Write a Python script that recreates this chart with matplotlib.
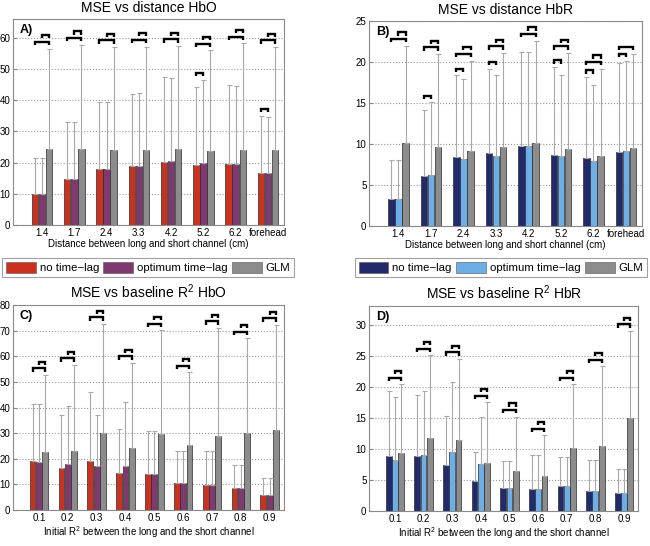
import numpy as np
import matplotlib
matplotlib.use('Agg')
import matplotlib.pyplot as plt
from matplotlib.patches import Patch

plt.rcParams['font.family'] = ['Liberation Sans', 'DejaVu Sans']
plt.rcParams['mathtext.fontset'] = 'custom'
plt.rcParams['mathtext.rm'] = 'Liberation Sans'
plt.rcParams['mathtext.it'] = 'Liberation Sans:italic'

# categories
dist_labels = ['1.4', '1.7', '2.4', '3.3', '4.2', '5.2', '6.2', 'forehead']
r2_labels = ['0.1', '0.2', '0.3', '0.4', '0.5', '0.6', '0.7', '0.8', '0.9']
series_names = ['no time\u2212lag', 'optimum time\u2212lag', 'GLM']

# A) MSE vs distance HbO : bar heights and whisker tops
hbo_dist_notl = [9.8, 14.8, 18.0, 19.0, 20.3, 19.2, 19.5, 16.8]
hbo_dist_opt = [9.8, 14.6, 18.0, 19.0, 20.5, 20.0, 19.6, 16.5]
hbo_dist_glm = [24.2, 24.4, 24.0, 24.1, 24.4, 23.6, 24.0, 24.0]
hbo_dist_notl_top = [21.5, 33.0, 39.5, 42.0, 47.5, 44.3, 45.0, 35.0]
hbo_dist_opt_top = [21.5, 33.0, 39.5, 42.2, 47.1, 46.5, 44.5, 34.5]
hbo_dist_glm_top = [56.5, 57.7, 57.0, 57.2, 57.3, 56.0, 58.2, 57.0]
hbo_dist_sig = [[(0, 2), (1, 2)], [(0, 2), (1, 2)], [(0, 2), (1, 2)], [(0, 2), (1, 2)],
                [(0, 2), (1, 2)], [(0, 1), (0, 2), (1, 2)], [(0, 2), (1, 2)], [(0, 1), (0, 2), (1, 2)]]

# B) MSE vs distance HbR
hbr_dist_notl = [3.3, 6.1, 8.4, 8.9, 9.8, 8.7, 8.3, 9.1]
hbr_dist_opt = [3.3, 6.2, 8.2, 8.5, 9.8, 8.5, 7.9, 9.2]
hbr_dist_glm = [10.1, 9.7, 9.2, 9.6, 10.2, 9.4, 8.6, 9.5]
hbr_dist_notl_top = [8.1, 14.2, 18.4, 19.2, 21.2, 19.4, 18.2, 19.9]
hbr_dist_opt_top = [8.1, 15.1, 17.9, 18.5, 21.2, 18.4, 17.2, 20.2]
hbr_dist_glm_top = [22.0, 21.0, 20.2, 21.1, 22.6, 21.1, 19.2, 21.0]
hbr_dist_sig = [[(0, 2), (1, 2)], [(0, 1), (0, 2), (1, 2)], [(0, 1), (0, 2), (1, 2)], [(0, 1), (0, 2), (1, 2)],
                [(0, 2), (1, 2)], [(0, 1), (0, 2), (1, 2)], [(0, 1), (0, 2), (1, 2)], [(0, 1), (0, 2)]]

# C) MSE vs baseline R2 HbO
hbo_r2_notl = [19.0, 16.3, 19.2, 14.3, 14.1, 10.5, 9.7, 8.5, 5.8]
hbo_r2_opt = [18.9, 18.0, 17.1, 17.0, 14.2, 10.4, 9.6, 8.4, 5.7]
hbo_r2_glm = [22.7, 23.0, 30.2, 24.2, 29.6, 25.2, 29.0, 30.0, 31.2]
hbo_r2_notl_top = [41.5, 37.2, 46.2, 31.8, 30.7, 22.9, 23.0, 17.5, 12.4]
hbo_r2_opt_top = [41.5, 40.8, 37.0, 42.2, 30.8, 22.9, 23.0, 17.5, 12.4]
hbo_r2_glm_top = [52.7, 56.6, 72.6, 57.4, 70.2, 53.8, 71.0, 67.0, 72.2]
hbo_r2_sig = [[(0, 2), (1, 2)]] * 9

# D) MSE vs baseline R2 HbR
hbr_r2_notl = [8.9, 8.8, 7.5, 4.8, 3.7, 3.5, 4.0, 3.2, 2.9]
hbr_r2_opt = [8.2, 9.1, 9.5, 7.6, 3.7, 3.5, 4.0, 3.2, 2.9]
hbr_r2_glm = [9.3, 11.8, 11.5, 7.7, 6.5, 5.6, 10.2, 10.5, 15.0]
hbr_r2_notl_top = [19.3, 18.7, 15.4, 9.5, 8.0, 9.0, 8.7, 8.2, 6.7]
hbr_r2_opt_top = [18.4, 19.4, 20.8, 15.1, 8.0, 9.0, 8.7, 8.2, 6.7]
hbr_r2_glm_top = [20.4, 25.1, 24.5, 17.5, 15.2, 12.2, 20.4, 23.3, 29.0]
hbr_r2_sig = [[(0, 2), (1, 2)]] * 9

hbo_colors = ['#c8321f', '#7e3a70', '#8c8c8c']
hbr_colors = ['#222a6c', '#6eaee6', '#8c8c8c']
GRID_C = '#9a9a9a'


def draw_panel(ax, labels, means, tops, sig, colors, ylim, yticks, title, xlabel, tag):
    n = len(labels)
    x = np.arange(1, n + 1)
    offs = [-0.22, 0.0, 0.22]
    width = 0.2
    for k in range(3):
        m = np.array(means[k])
        up = np.array(tops[k]) - m
        ax.bar(x + offs[k], m, width, color=colors[k], edgecolor='#2a2a2a', linewidth=0.5,
               yerr=[np.zeros(n), up], error_kw=dict(ecolor='#a8a8a8', elinewidth=0.8,
                                                      capsize=1.8, capthick=0.8), zorder=2)
    # significance brackets, stacked above the whiskers
    step = 0.033 * ylim
    tick = 0.016 * ylim
    for g in range(n):
        placed = []
        for (a, b) in sig[g]:
            level = max(tops[k][g] for k in range(a, b + 1))
            for (pa, pb, py) in placed:
                if pa <= b and a <= pb:
                    level = max(level, py)
            y = level + step
            x0 = x[g] + offs[a]
            x1 = x[g] + offs[b]
            ax.plot([x0, x0, x1, x1], [y - tick, y, y, y - tick], color='black',
                    linewidth=1.7, solid_capstyle='butt', solid_joinstyle='miter', zorder=3)
            placed.append((a, b, y))
    ax.set_xlim(0.1, n + 0.5)
    ax.set_ylim(0, ylim)
    ax.set_yticks(yticks)
    ax.set_xticks(x)
    ax.set_xticklabels(labels)
    ax.yaxis.grid(True, linestyle=':', color=GRID_C, linewidth=0.8)
    ax.set_axisbelow(True)
    ax.tick_params(direction='in', length=3, labelsize=7, color='#888888', pad=2)
    for s in ax.spines.values():
        s.set_color('#8a8a8a')
        s.set_linewidth(0.8)
    ax.set_title(title, fontsize=10, pad=5)
    ax.set_xlabel(xlabel, fontsize=7, labelpad=1)
    ax.text(0.025, 0.975, tag, transform=ax.transAxes, fontsize=9, fontweight='bold',
            va='top', ha='left')


fig = plt.figure(figsize=(6.5, 5.46), dpi=100)
axA = fig.add_axes([0.02, 0.588, 0.417, 0.377])
axB = fig.add_axes([0.568, 0.586, 0.42, 0.375])
axC = fig.add_axes([0.02, 0.066, 0.417, 0.375])
axD = fig.add_axes([0.568, 0.064, 0.414, 0.375])

draw_panel(axA, dist_labels, [hbo_dist_notl, hbo_dist_opt, hbo_dist_glm],
           [hbo_dist_notl_top, hbo_dist_opt_top, hbo_dist_glm_top], hbo_dist_sig, hbo_colors,
           66, range(0, 61, 10), 'MSE vs distance HbO',
           'Distance between long and short channel (cm)', 'A)')
draw_panel(axB, dist_labels, [hbr_dist_notl, hbr_dist_opt, hbr_dist_glm],
           [hbr_dist_notl_top, hbr_dist_opt_top, hbr_dist_glm_top], hbr_dist_sig, hbr_colors,
           25, range(0, 26, 5), 'MSE vs distance HbR',
           'Distance between long and short channel (cm)', 'B)')
draw_panel(axC, r2_labels, [hbo_r2_notl, hbo_r2_opt, hbo_r2_glm],
           [hbo_r2_notl_top, hbo_r2_opt_top, hbo_r2_glm_top], hbo_r2_sig, hbo_colors,
           80, range(0, 81, 10), 'MSE vs baseline R$^2$ HbO',
           'Initial R$^2$ between the long and the short channel', 'C)')
draw_panel(axD, r2_labels, [hbr_r2_notl, hbr_r2_opt, hbr_r2_glm],
           [hbr_r2_notl_top, hbr_r2_opt_top, hbr_r2_glm_top], hbr_r2_sig, hbr_colors,
           33, range(0, 31, 5), 'MSE vs baseline R$^2$ HbR',
           'Initial R$^2$ between the long and the short channel', 'D)')

for colors, cx in [(hbo_colors, 0.228), (hbr_colors, 0.771)]:
    handles = [Patch(facecolor=c, edgecolor='#555555', linewidth=0.4) for c in colors]
    leg = fig.legend(handles, series_names, loc='center', bbox_to_anchor=(cx, 0.51), ncol=3,
                     fontsize=8.2, frameon=True, fancybox=False, handlelength=2.6, handleheight=1.15,
                     handletextpad=0.35, columnspacing=0.4, borderpad=0.35, borderaxespad=0)
    leg.get_frame().set_edgecolor('#8a8a8a')
    leg.get_frame().set_linewidth(0.8)

fig.savefig('out.png', dpi=100)
